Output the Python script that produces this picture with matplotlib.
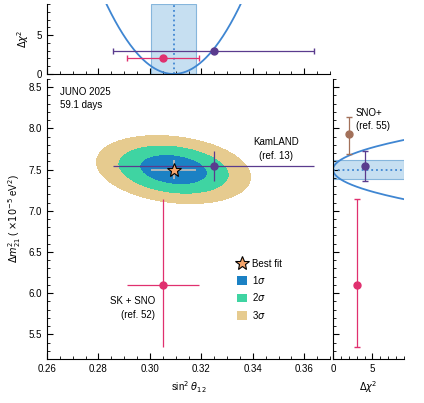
import matplotlib
matplotlib.use("Agg")
import matplotlib.pyplot as plt
import numpy as np
from matplotlib.lines import Line2D
from matplotlib.patches import Patch
from matplotlib.ticker import MultipleLocator

plt.rcParams['font.family'] = ['Liberation Sans', 'DejaVu Sans']
plt.rcParams['font.size'] = 7

# JUNO best fit and 1 sigma errors
best_s12 = 0.3092
best_dm = 7.50
err_s12 = 0.0087
err_dm = 0.12
rho = -0.22
sigma_levels = [0, 2.30, 6.18, 11.83]
sigma_colors = ['#1b81c4', '#3fd4a2', '#e6cb8f']
sigma_labels = ['1$\\sigma$', '2$\\sigma$', '3$\\sigma$']

# KamLAND (ref. 13)
kam_s12 = 0.3248
kam_s12_err = [0.039, 0.039]
kam_dm = 7.54
kam_dm_err = [0.18, 0.19]
kam_chi_x = 3.0   # offset in top panel
kam_chi_y = 4.0   # offset in right panel

# SK + SNO (ref. 52)
sk_s12 = 0.305
sk_s12_err = [0.014, 0.014]
sk_dm = 6.10
sk_dm_err = [0.75, 1.04]
sk_chi_x = 2.0
sk_chi_y = 3.0

# SNO+ (ref. 55)
snop_dm = 7.93
snop_dm_err = [0.24, 0.21]
snop_chi_y = 2.0

purple = '#5a3b8e'
pink = '#e0306f'
brown = '#a3715a'
curve_blue = '#3f86d2'
band_face = '#c6dff1'
band_edge = '#86b6dc'

W, H = 424, 403
fig = plt.figure(figsize=(W / 100, H / 100), dpi=100)
ax = fig.add_axes([47 / W, 44 / H, 283 / W, 280 / H])
axt = fig.add_axes([47 / W, 329 / H, 283 / W, 70 / H], sharex=ax)
axr = fig.add_axes([333 / W, 44 / H, 71 / W, 280 / H], sharey=ax)

# main panel: contours
xs = np.linspace(0.26, 0.37, 400)
ys = np.linspace(5.2, 8.6, 400)
X, Y = np.meshgrid(xs, ys)
u = (X - best_s12) / err_s12
v = (Y - best_dm) / err_dm
chi2 = (u ** 2 - 2 * rho * u * v + v ** 2) / (1 - rho ** 2)
ax.contourf(X, Y, chi2, levels=sigma_levels, colors=sigma_colors)

ax.errorbar(best_s12, best_dm, xerr=err_s12, yerr=err_dm, fmt='none',
            ecolor='#b9b9b9', elinewidth=1.3, zorder=3)
ax.plot(best_s12, best_dm, marker='*', ms=10, mfc='#f4a56c', mec='black',
        mew=0.8, ls='none', zorder=4)

ax.errorbar(kam_s12, kam_dm, xerr=[[kam_s12_err[0]], [kam_s12_err[1]]],
            yerr=[[kam_dm_err[0]], [kam_dm_err[1]]], fmt='o', ms=5,
            color=purple, elinewidth=0.9, zorder=3)
ax.errorbar(sk_s12, sk_dm, xerr=[[sk_s12_err[0]], [sk_s12_err[1]]],
            yerr=[[sk_dm_err[0]], [sk_dm_err[1]]], fmt='o', ms=5,
            color=pink, elinewidth=0.9, zorder=3)

ax.text(0.265, 8.5, 'JUNO 2025\n59.1 days', ha='left', va='top', fontsize=7, linespacing=1.4)
ax.text(0.349, 7.75, 'KamLAND\n(ref. 13)', ha='center', va='center', multialignment='center',
        fontsize=7, linespacing=1.4)
ax.text(0.302, 5.82, 'SK + SNO\n(ref. 52)', ha='right', va='center', multialignment='right',
        fontsize=7, linespacing=1.4)

handles = [Line2D([], [], marker='*', ms=10, mfc='#f4a56c', mec='black', mew=0.8, ls='none')]
handles += [Patch(facecolor=c, edgecolor='none') for c in sigma_colors]
ax.legend(handles, ['Best fit'] + sigma_labels, loc='upper left',
          bbox_to_anchor=(0.64, 0.39), frameon=False, fontsize=7,
          handlelength=1.0, handleheight=1.0, handletextpad=0.6, labelspacing=0.55)

ax.set_xlim(0.26, 0.37)
ax.set_ylim(5.2, 8.6)
ax.xaxis.set_major_locator(MultipleLocator(0.02))
ax.xaxis.set_minor_locator(MultipleLocator(0.005))
ax.yaxis.set_major_locator(MultipleLocator(0.5))
ax.yaxis.set_minor_locator(MultipleLocator(0.1))
ax.set_xticks(np.arange(0.26, 0.3701, 0.02))
ax.set_xticklabels(['0.26', '0.28', '0.30', '0.32', '0.34', '0.36'])
ax.set_xlabel('sin$^2$ $\\theta_{12}$', fontsize=7)
ax.set_ylabel('$\\Delta m^2_{21}$ ( $\\times 10^{-5}$ eV$^2$)', fontsize=7)

# top panel: profile in sin^2 theta12
sx = np.linspace(0.26, 0.37, 300)
axt.axvspan(best_s12 - err_s12, best_s12 + err_s12, facecolor=band_face, edgecolor=band_edge, lw=0.8)
axt.axvline(best_s12, color=curve_blue, ls=':', lw=1.3)
axt.plot(sx, ((sx - best_s12) / err_s12) ** 2, color=curve_blue, lw=1.3)
axt.errorbar(kam_s12, kam_chi_x, xerr=[[kam_s12_err[0]], [kam_s12_err[1]]], fmt='o', ms=5,
             color=purple, elinewidth=0.9, capsize=2)
axt.errorbar(sk_s12, sk_chi_x, xerr=[[sk_s12_err[0]], [sk_s12_err[1]]], fmt='o', ms=5,
             color=pink, elinewidth=0.9, capsize=2)
axt.set_ylim(0, 9)
axt.yaxis.set_major_locator(MultipleLocator(5))
axt.yaxis.set_minor_locator(MultipleLocator(1))
axt.set_ylabel('$\\Delta\\chi^2$', fontsize=7)
axt.tick_params(labelbottom=False)

# right panel: profile in dm21
sy = np.linspace(5.2, 8.6, 300)
axr.axhspan(best_dm - err_dm, best_dm + err_dm, facecolor=band_face, edgecolor=band_edge, lw=0.8)
axr.axhline(best_dm, color=curve_blue, ls=':', lw=1.3)
axr.plot(((sy - best_dm) / err_dm) ** 2, sy, color=curve_blue, lw=1.3)
axr.errorbar(snop_chi_y, snop_dm, yerr=[[snop_dm_err[0]], [snop_dm_err[1]]], fmt='o', ms=5,
             color=brown, elinewidth=0.9, capsize=2)
axr.errorbar(kam_chi_y, kam_dm, yerr=[[kam_dm_err[0]], [kam_dm_err[1]]], fmt='o', ms=5,
             color=purple, elinewidth=0.9, capsize=2)
axr.errorbar(sk_chi_y, sk_dm, yerr=[[sk_dm_err[0]], [sk_dm_err[1]]], fmt='o', ms=5,
             color=pink, elinewidth=0.9, capsize=2)
axr.text(2.9, 8.11, 'SNO+\n(ref. 55)', ha='left', va='center', fontsize=7, linespacing=1.4)
axr.set_xlim(0, 9)
axr.xaxis.set_major_locator(MultipleLocator(5))
axr.xaxis.set_minor_locator(MultipleLocator(1))
axr.set_xlabel('$\\Delta\\chi^2$', fontsize=7)
axr.tick_params(labelleft=False)

for a in (ax, axt, axr):
    a.spines['top'].set_visible(False)
    a.spines['right'].set_visible(False)
    a.tick_params(which='both', direction='in', labelsize=7)
    a.tick_params(which='major', length=4)
    a.tick_params(which='minor', length=2)

fig.savefig('out.png', dpi=100)
